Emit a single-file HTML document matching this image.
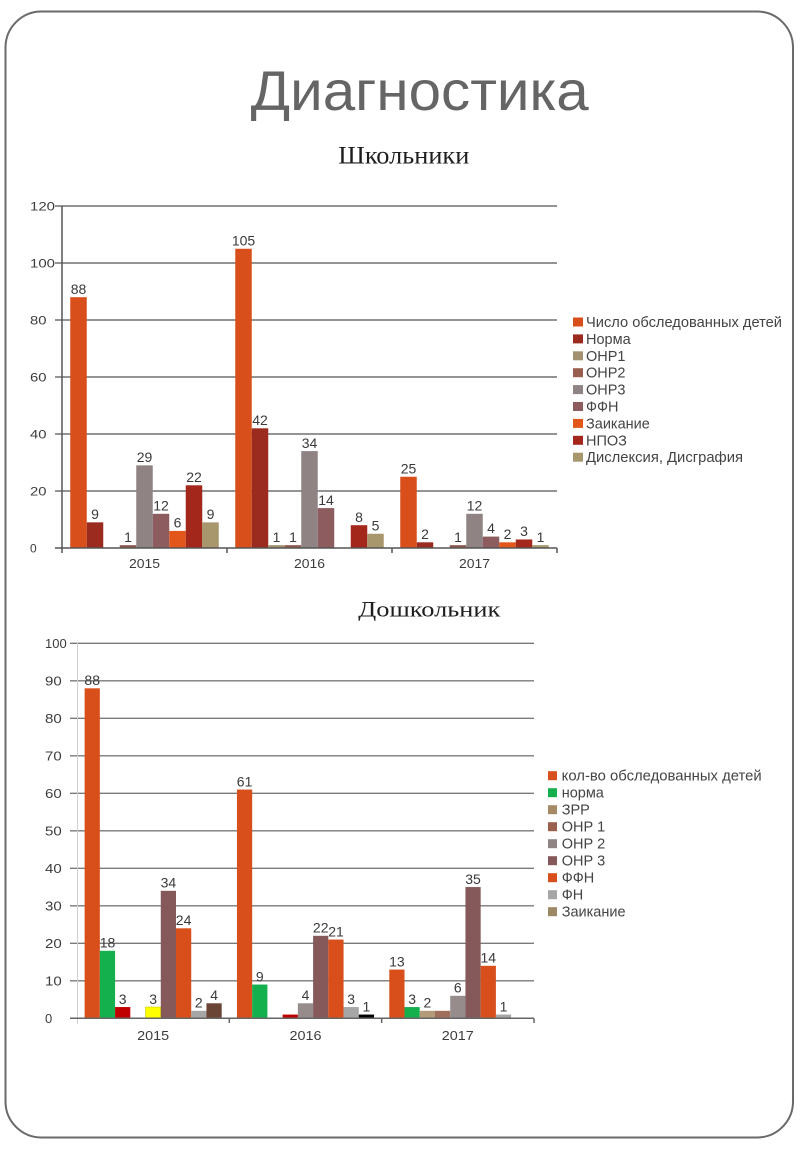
<!DOCTYPE html>
<html>
<head>
<meta charset="utf-8">
<style>
html,body{margin:0;padding:0;background:#fff;}
svg{display:block;}
.al{font-family:"Liberation Sans",Arial,sans-serif;fill:#3c3c3c;}
.dl{font-family:"Liberation Sans",Arial,sans-serif;font-size:14px;fill:#3a3a3a;text-anchor:middle;}
.lg{font-family:"Liberation Sans",Arial,sans-serif;font-size:14.5px;fill:#444;}
</style>
</head>
<body>
<svg width="800" height="1156" viewBox="0 0 800 1156" xmlns="http://www.w3.org/2000/svg">
<rect x="0" y="0" width="800" height="1156" fill="#fff"/>
<!-- slide frame -->
<rect x="5.5" y="11.5" width="787.5" height="1126" rx="36" ry="36" fill="#fff" stroke="#6a6a6a" stroke-width="2"/>

<!-- titles -->
<text x="250.7" y="110" font-family="Liberation Sans, Arial, sans-serif" font-size="56" fill="#656565" textLength="338" lengthAdjust="spacingAndGlyphs">Диагностика</text>
<text x="338.3" y="163.3" font-family="Liberation Serif, Times New Roman, serif" font-size="25" fill="#1e1e1e" textLength="131" lengthAdjust="spacingAndGlyphs">Школьники</text>
<text x="358.3" y="616.7" font-family="Liberation Serif, Times New Roman, serif" font-size="22" fill="#1e1e1e" textLength="142" lengthAdjust="spacingAndGlyphs">Дошкольник</text>

<!-- ================= TOP CHART ================= -->
<g stroke="#707070" stroke-width="1.5">
<line x1="55" y1="206" x2="557" y2="206"/>
<line x1="55" y1="263" x2="557" y2="263"/>
<line x1="55" y1="320" x2="557" y2="320"/>
<line x1="55" y1="377" x2="557" y2="377"/>
<line x1="55" y1="434" x2="557" y2="434"/>
<line x1="55" y1="491" x2="557" y2="491"/>
</g>
<g class="al" font-size="12">
<text x="30" y="210.5" textLength="25" lengthAdjust="spacingAndGlyphs">120</text>
<text x="30" y="267.5" textLength="25" lengthAdjust="spacingAndGlyphs">100</text>
<text x="30" y="324.5" textLength="16.5" lengthAdjust="spacingAndGlyphs">80</text>
<text x="30" y="381.5" textLength="16.5" lengthAdjust="spacingAndGlyphs">60</text>
<text x="30" y="438.5" textLength="16.5" lengthAdjust="spacingAndGlyphs">40</text>
<text x="30" y="495.5" textLength="16.5" lengthAdjust="spacingAndGlyphs">20</text>
<text x="30" y="552.5">0</text>
</g>

<!-- bars 2015 -->
<rect x="70.25" y="297.2" width="16.5" height="250.8" fill="#D84F1B"/>
<rect x="86.75" y="522.35" width="16.5" height="25.65" fill="#9C2B1F"/>
<rect x="119.75" y="545.15" width="16.5" height="2.85" fill="#8E5A4E"/>
<rect x="136.25" y="465.35" width="16.5" height="82.65" fill="#8F8384"/>
<rect x="152.75" y="513.8" width="16.5" height="34.2" fill="#8C5C5E"/>
<rect x="169.25" y="530.9" width="16.5" height="17.1" fill="#E2561C"/>
<rect x="185.75" y="485.3" width="16.5" height="62.7" fill="#A3271B"/>
<rect x="202.25" y="522.35" width="16.5" height="25.65" fill="#A8976C"/>
<!-- bars 2016 -->
<rect x="235.25" y="248.75" width="16.5" height="299.25" fill="#D84F1B"/>
<rect x="251.75" y="428.3" width="16.5" height="119.7" fill="#9C2B1F"/>
<rect x="268.25" y="545.15" width="16.5" height="2.85" fill="#A29170"/>
<rect x="284.75" y="545.15" width="16.5" height="2.85" fill="#8E5A4E"/>
<rect x="301.25" y="451.1" width="16.5" height="96.9" fill="#8F8384"/>
<rect x="317.75" y="508.1" width="16.5" height="39.9" fill="#8C5C5E"/>
<rect x="350.75" y="525.2" width="16.5" height="22.8" fill="#A3271B"/>
<rect x="367.25" y="533.75" width="16.5" height="14.25" fill="#A8976C"/>
<!-- bars 2017 -->
<rect x="400.25" y="476.75" width="16.5" height="71.25" fill="#D84F1B"/>
<rect x="416.75" y="542.3" width="16.5" height="5.7" fill="#9C2B1F"/>
<rect x="449.75" y="545.15" width="16.5" height="2.85" fill="#8E5A4E"/>
<rect x="466.25" y="513.8" width="16.5" height="34.2" fill="#8F8384"/>
<rect x="482.75" y="536.6" width="16.5" height="11.4" fill="#8C5C5E"/>
<rect x="499.25" y="542.3" width="16.5" height="5.7" fill="#E2561C"/>
<rect x="515.75" y="539.45" width="16.5" height="8.55" fill="#A3271B"/>
<rect x="532.25" y="545.15" width="16.5" height="2.85" fill="#A8976C"/>

<!-- axes top -->
<g stroke="#555" stroke-width="1.5">
<line x1="62" y1="206" x2="62" y2="548"/>
<line x1="55" y1="548" x2="557" y2="548"/>
<line x1="62" y1="548" x2="62" y2="553"/>
<line x1="227" y1="548" x2="227" y2="553"/>
<line x1="392" y1="548" x2="392" y2="553"/>
<line x1="557" y1="548" x2="557" y2="553"/>
</g>

<!-- data labels top -->
<g class="dl">
<text x="78.5" y="294">88</text>
<text x="95" y="519">9</text>
<text x="128" y="542">1</text>
<text x="144.5" y="462">29</text>
<text x="161" y="510.5">12</text>
<text x="177.5" y="527.5">6</text>
<text x="194" y="482">22</text>
<text x="210.5" y="519">9</text>
<text x="243.5" y="245.5">105</text>
<text x="260" y="425">42</text>
<text x="276.5" y="542">1</text>
<text x="293" y="542">1</text>
<text x="309.5" y="448">34</text>
<text x="326" y="505">14</text>
<text x="359" y="522">8</text>
<text x="375.5" y="530.5">5</text>
<text x="408.5" y="473.5">25</text>
<text x="425" y="539">2</text>
<text x="458" y="542">1</text>
<text x="474.5" y="510.5">12</text>
<text x="491" y="533">4</text>
<text x="507.5" y="539">2</text>
<text x="524" y="536">3</text>
<text x="540.5" y="542">1</text>
</g>

<!-- x labels top -->
<g class="al" font-size="13" text-anchor="middle">
<text x="144.5" y="568" textLength="31" lengthAdjust="spacingAndGlyphs">2015</text>
<text x="309.5" y="568" textLength="31" lengthAdjust="spacingAndGlyphs">2016</text>
<text x="474.5" y="568" textLength="31" lengthAdjust="spacingAndGlyphs">2017</text>
</g>

<!-- legend top -->
<g>
<rect x="573" y="317.5" width="10" height="9" fill="#D84F1B"/>
<rect x="573" y="334.4" width="10" height="9" fill="#9C2B1F"/>
<rect x="573" y="351.3" width="10" height="9" fill="#A29170"/>
<rect x="573" y="368.2" width="10" height="9" fill="#9A5E50"/>
<rect x="573" y="385.1" width="10" height="9" fill="#8F8384"/>
<rect x="573" y="402" width="10" height="9" fill="#8C5C5E"/>
<rect x="573" y="418.9" width="10" height="9" fill="#E2561C"/>
<rect x="573" y="435.8" width="10" height="9" fill="#A3271B"/>
<rect x="573" y="452.7" width="10" height="9" fill="#A8976C"/>
</g>
<g class="lg">
<text x="586" y="327" textLength="196" lengthAdjust="spacingAndGlyphs">Число обследованных детей</text>
<text x="586" y="343.9">Норма</text>
<text x="586" y="360.8">ОНР1</text>
<text x="586" y="377.7">ОНР2</text>
<text x="586" y="394.6">ОНР3</text>
<text x="586" y="411.5">ФФН</text>
<text x="586" y="428.4">Заикание</text>
<text x="586" y="445.3">НПОЗ</text>
<text x="586" y="462.2" textLength="157" lengthAdjust="spacingAndGlyphs">Дислексия, Дисграфия</text>
</g>

<!-- ================= BOTTOM CHART ================= -->
<g stroke="#7a7a7a" stroke-width="1.4">
<line x1="70" y1="643.3" x2="534" y2="643.3"/>
<line x1="70" y1="680.8" x2="534" y2="680.8"/>
<line x1="70" y1="718.3" x2="534" y2="718.3"/>
<line x1="70" y1="755.8" x2="534" y2="755.8"/>
<line x1="70" y1="793.3" x2="534" y2="793.3"/>
<line x1="70" y1="830.8" x2="534" y2="830.8"/>
<line x1="70" y1="868.3" x2="534" y2="868.3"/>
<line x1="70" y1="905.8" x2="534" y2="905.8"/>
<line x1="70" y1="943.3" x2="534" y2="943.3"/>
<line x1="70" y1="980.8" x2="534" y2="980.8"/>
</g>
<line x1="77.5" y1="643" x2="77.5" y2="1024" stroke="#cfcfcf" stroke-width="1"/>
<g class="al" font-size="13">
<text x="45" y="648" textLength="21.7" lengthAdjust="spacingAndGlyphs">100</text>
<text x="45" y="685.5" textLength="16.7" lengthAdjust="spacingAndGlyphs">90</text>
<text x="45" y="723" textLength="16.7" lengthAdjust="spacingAndGlyphs">80</text>
<text x="45" y="760.5" textLength="16.7" lengthAdjust="spacingAndGlyphs">70</text>
<text x="45" y="798" textLength="16.7" lengthAdjust="spacingAndGlyphs">60</text>
<text x="45" y="835.5" textLength="16.7" lengthAdjust="spacingAndGlyphs">50</text>
<text x="45" y="873" textLength="16.7" lengthAdjust="spacingAndGlyphs">40</text>
<text x="45" y="910.5" textLength="16.7" lengthAdjust="spacingAndGlyphs">30</text>
<text x="45" y="948" textLength="16.7" lengthAdjust="spacingAndGlyphs">20</text>
<text x="45" y="985.5" textLength="16.7" lengthAdjust="spacingAndGlyphs">10</text>
<text x="45" y="1023">0</text>
</g>

<!-- bars 2015 -->
<rect x="84.62" y="688.3" width="15.23" height="330" fill="#D84F1B"/>
<rect x="99.85" y="950.8" width="15.23" height="67.5" fill="#14B04E"/>
<rect x="115.08" y="1007.05" width="15.23" height="11.25" fill="#C00000"/>
<rect x="145.54" y="1007.05" width="15.23" height="11.25" fill="#FFFF00" stroke="#c8c800" stroke-width="0.6"/>
<rect x="160.77" y="890.8" width="15.23" height="127.5" fill="#85595A"/>
<rect x="176.0" y="928.3" width="15.23" height="90" fill="#D84F1B"/>
<rect x="191.23" y="1010.8" width="15.23" height="7.5" fill="#A6A6A6"/>
<rect x="206.46" y="1003.3" width="15.23" height="15" fill="#6A4536"/>
<!-- bars 2016 -->
<rect x="236.95" y="789.55" width="15.23" height="228.75" fill="#D84F1B"/>
<rect x="252.18" y="984.55" width="15.23" height="33.75" fill="#14B04E"/>
<rect x="282.64" y="1014.55" width="15.23" height="3.75" fill="#C00000"/>
<rect x="297.87" y="1003.3" width="15.23" height="15" fill="#978C8C"/>
<rect x="313.1" y="935.8" width="15.23" height="82.5" fill="#85595A"/>
<rect x="328.33" y="939.55" width="15.23" height="78.75" fill="#D84F1B"/>
<rect x="343.56" y="1007.05" width="15.23" height="11.25" fill="#A6A6A6"/>
<rect x="358.79" y="1014.55" width="15.23" height="3.75" fill="#000"/>
<!-- bars 2017 -->
<rect x="389.29" y="969.55" width="15.23" height="48.75" fill="#D84F1B"/>
<rect x="404.52" y="1007.05" width="15.23" height="11.25" fill="#14B04E"/>
<rect x="419.75" y="1010.8" width="15.23" height="7.5" fill="#B39B7A"/>
<rect x="434.98" y="1010.8" width="15.23" height="7.5" fill="#A0705C"/>
<rect x="450.21" y="995.8" width="15.23" height="22.5" fill="#978C8C"/>
<rect x="465.44" y="887.05" width="15.23" height="131.25" fill="#85595A"/>
<rect x="480.67" y="965.8" width="15.23" height="52.5" fill="#D84F1B"/>
<rect x="495.9" y="1014.55" width="15.23" height="3.75" fill="#A6A6A6"/>

<!-- axis bottom -->
<g stroke="#666" stroke-width="1.5">
<line x1="70" y1="1018.3" x2="534" y2="1018.3"/>
<line x1="229.33" y1="1018.3" x2="229.33" y2="1023"/>
<line x1="381.67" y1="1018.3" x2="381.67" y2="1023"/>
<line x1="534" y1="1018.3" x2="534" y2="1023"/>
</g>

<!-- data labels bottom -->
<g class="dl">
<text x="92.2" y="685">88</text>
<text x="107.5" y="947.5">18</text>
<text x="122.7" y="1004">3</text>
<text x="153.2" y="1004">3</text>
<text x="168.4" y="887.5">34</text>
<text x="183.6" y="925">24</text>
<text x="198.8" y="1007.5">2</text>
<text x="214.1" y="1000">4</text>
<text x="244.6" y="786.5">61</text>
<text x="259.8" y="981.5">9</text>
<text x="305.5" y="1000">4</text>
<text x="320.7" y="932.5">22</text>
<text x="336" y="936.5">21</text>
<text x="351.2" y="1004">3</text>
<text x="366.4" y="1011.5">1</text>
<text x="396.9" y="966.5">13</text>
<text x="412.1" y="1004">3</text>
<text x="427.4" y="1007.5">2</text>
<text x="457.8" y="992.5">6</text>
<text x="473" y="884">35</text>
<text x="488.3" y="962.5">14</text>
<text x="503.5" y="1011.5">1</text>
</g>

<!-- x labels bottom -->
<g class="al" font-size="13" text-anchor="middle">
<text x="153.2" y="1040" textLength="32" lengthAdjust="spacingAndGlyphs">2015</text>
<text x="305.5" y="1040" textLength="32" lengthAdjust="spacingAndGlyphs">2016</text>
<text x="457.8" y="1040" textLength="32" lengthAdjust="spacingAndGlyphs">2017</text>
</g>

<!-- legend bottom -->
<g>
<rect x="548" y="771.2" width="9" height="9" fill="#D84F1B"/>
<rect x="548" y="788.2" width="9" height="9" fill="#14B04E"/>
<rect x="548" y="805.2" width="9" height="9" fill="#A58A65"/>
<rect x="548" y="822.2" width="9" height="9" fill="#9B5F4D"/>
<rect x="548" y="839.2" width="9" height="9" fill="#8F8384"/>
<rect x="548" y="856.2" width="9" height="9" fill="#85595A"/>
<rect x="548" y="873.2" width="9" height="9" fill="#D84F1B"/>
<rect x="548" y="890.2" width="9" height="9" fill="#A6A6A6"/>
<rect x="548" y="907.2" width="9" height="9" fill="#9C8862"/>
</g>
<g class="lg">
<text x="561.7" y="780.7" textLength="200" lengthAdjust="spacingAndGlyphs">кол-во обследованных детей</text>
<text x="561.7" y="797.7">норма</text>
<text x="561.7" y="814.7">ЗРР</text>
<text x="561.7" y="831.7">ОНР 1</text>
<text x="561.7" y="848.7">ОНР 2</text>
<text x="561.7" y="865.7">ОНР 3</text>
<text x="561.7" y="882.7">ФФН</text>
<text x="561.7" y="899.7">ФН</text>
<text x="561.7" y="916.7">Заикание</text>
</g>
</svg>
</body>
</html>
